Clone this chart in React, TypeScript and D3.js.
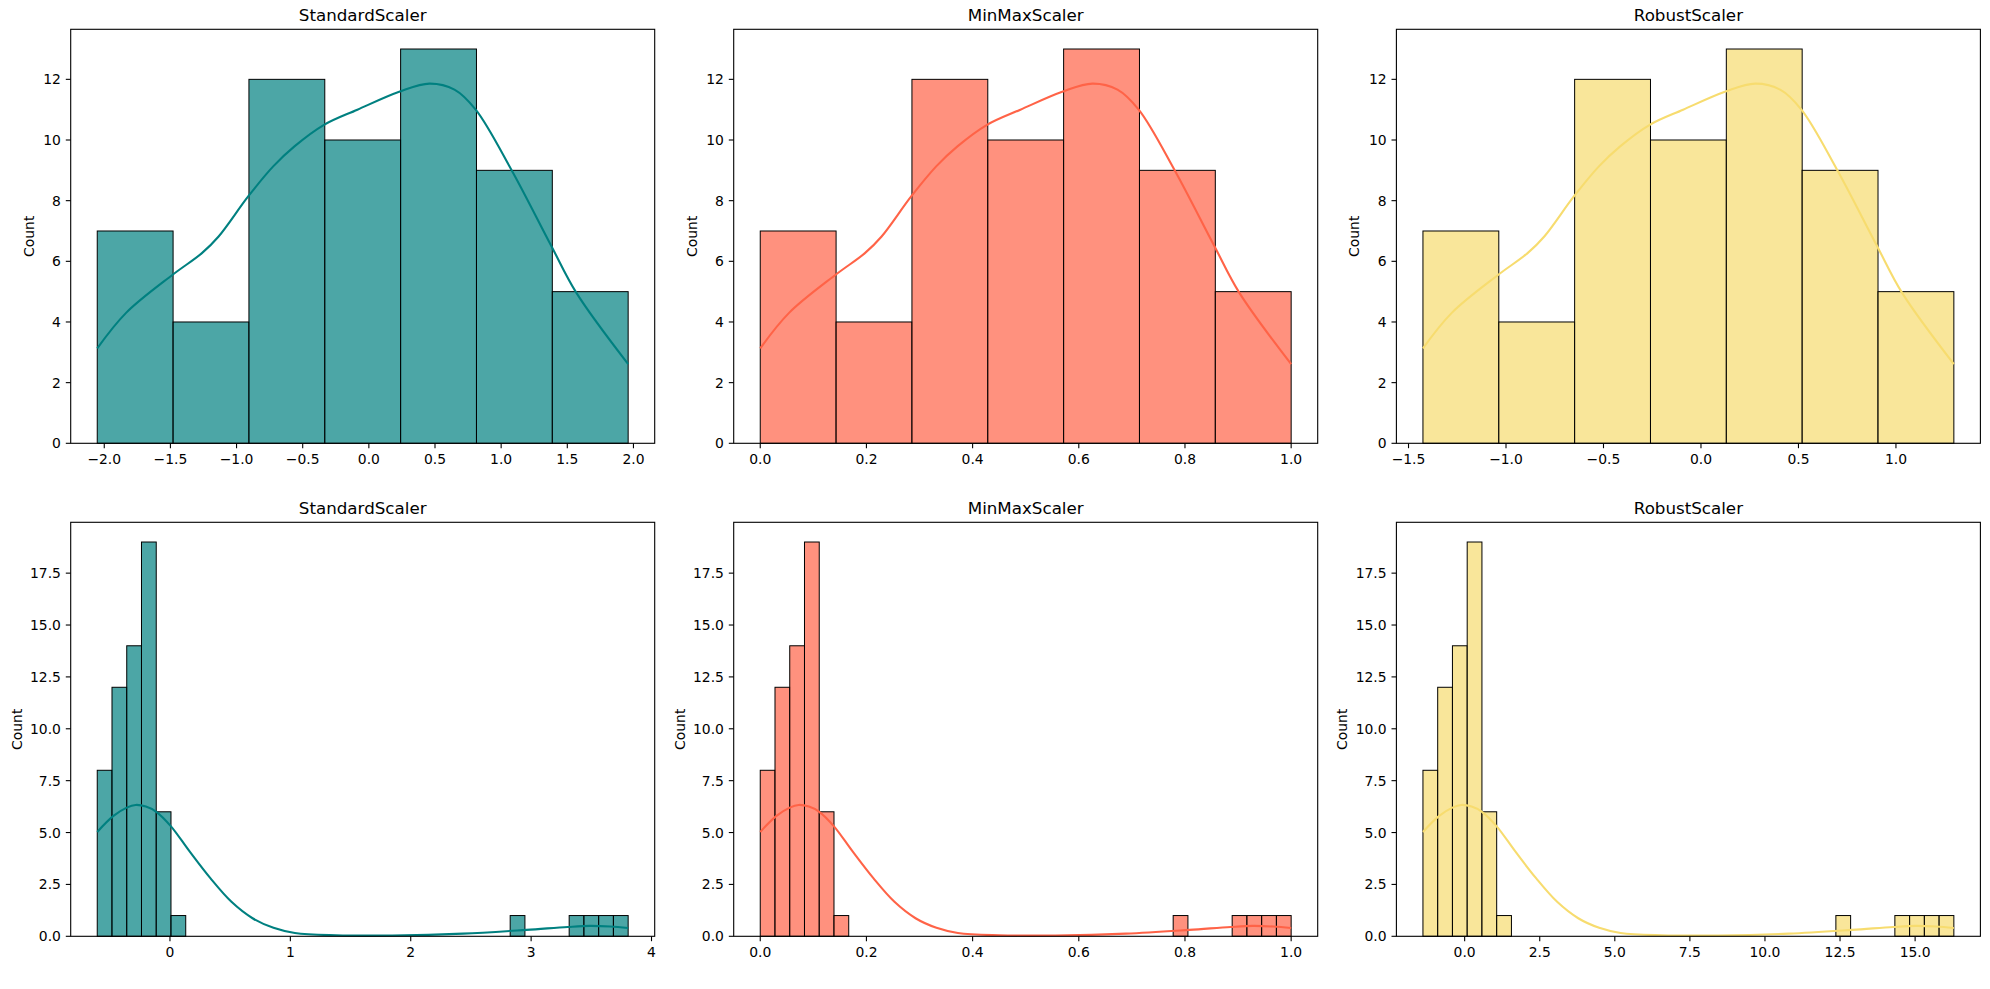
import React from "react";
import * as d3 from "d3";

const W = 1990;
const H = 989;

const titles = ["StandardScaler", "MinMaxScaler", "RobustScaler"];
const lineColors = ["#008080", "#FF6347", "#F7DC6F"];
const barAlpha = 0.7;

// Top row: data without outliers, 7 bins
const topCounts = [7, 4, 12, 10, 13, 9, 5];
const topRanges: [number, number][] = [
  [-2.053, 1.96],
  [0, 1],
  [-1.426, 1.297],
];
// KDE (count scale), x given in bin units (0..7)
const topKdeU = [0, 0.38, 0.99, 1.38, 1.6, 1.99, 2.32, 2.6, 2.99, 3.43, 3.99, 4.38, 4.71, 4.99, 5.46, 5.98, 6.32, 7];
const topKdeCount = [3.13, 4.3, 5.55, 6.27, 6.82, 8.14, 9.13, 9.79, 10.5, 11.0, 11.6, 11.86, 11.66, 11.0, 9.02, 6.54, 4.95, 2.61];

// Bottom row: data with outliers, 36 bins
const botCounts = [
  8, 12, 14, 19, 6, 1,
  0, 0, 0, 0, 0, 0, 0, 0, 0, 0, 0, 0, 0, 0, 0, 0, 0, 0, 0, 0, 0, 0,
  1,
  0, 0, 0,
  1, 1, 1, 1,
];
const botRanges: [number, number][] = [
  [-0.604, 3.806],
  [0, 1],
  [-1.389, 16.29],
];
// KDE (count scale), x given in bin units (0..36)
const botKdeU = [0, 1.1, 2.0, 2.6, 3.3, 4.0, 5.0, 6.25, 7.67, 9.1, 10.53, 11.95, 13.4, 16.2, 20, 24.8, 29.1, 31.9, 33.4, 34.8, 36];
const botKdeCount = [5.03, 5.8, 6.2, 6.33, 6.25, 6.0, 5.3, 4.1, 2.8, 1.66, 0.87, 0.41, 0.16, 0.05, 0.04, 0.13, 0.31, 0.45, 0.5, 0.47, 0.4];

// Tick values
const topXTicks = [
  [-2.0, -1.5, -1.0, -0.5, 0.0, 0.5, 1.0, 1.5, 2.0],
  [0.0, 0.2, 0.4, 0.6, 0.8, 1.0],
  [-1.5, -1.0, -0.5, 0.0, 0.5, 1.0],
];
const topXFormats = [".1f", ".1f", ".1f"];
const botXTicks = [
  [0, 1, 2, 3, 4],
  [0.0, 0.2, 0.4, 0.6, 0.8, 1.0],
  [0.0, 2.5, 5.0, 7.5, 10.0, 12.5, 15.0],
];
const botXFormats = ["d", ".1f", ".1f"];
const topYTicks = [0, 2, 4, 6, 8, 10, 12];
const botYTicks = [0, 2.5, 5.0, 7.5, 10.0, 12.5, 15.0, 17.5];

const colX = [70.7, 733.7, 1396.4];
const panelW = 584;
const rowY = [29.3, 522.3];
const panelH = 414;

const FONT = "DejaVu Sans, Verdana, sans-serif";
const TICK_FS = 13.9;
const TITLE_FS = 16.7;

type PanelProps = {
  x0: number;
  y0: number;
  title: string;
  color: string;
  counts: number[];
  range: [number, number];
  kdeU: number[];
  kdeC: number[];
  xTicks: number[];
  xFmt: string;
  yTicks: number[];
  yFmt: string;
  ylabelOffset: number;
};

function Panel(p: PanelProps) {
  const [lo, hi] = p.range;
  const n = p.counts.length;
  const bw = (hi - lo) / n;
  const pad = 0.05 * (hi - lo);
  const x = d3.scaleLinear().domain([lo - pad, hi + pad]).range([p.x0, p.x0 + panelW]);
  const yMax = (d3.max(p.counts) as number) * 1.05;
  const y = d3.scaleLinear().domain([0, yMax]).range([p.y0 + panelH, p.y0]);
  const xf = d3.format(p.xFmt);
  const yf = d3.format(p.yFmt);
  const base = p.y0 + panelH;

  const kdePts: [number, number][] = p.kdeU.map((u, i) => [lo + u * bw, p.kdeC[i]]);
  const line = d3
    .line<[number, number]>()
    .x((d) => x(d[0]))
    .y((d) => Math.min(y(d[1]), base))
    .curve(d3.curveCatmullRom.alpha(0.5));

  return (
    <g>
      {p.counts.map((c, i) =>
        c > 0 ? (
          <rect
            key={i}
            x={x(lo + i * bw)}
            y={y(c)}
            width={x(lo + (i + 1) * bw) - x(lo + i * bw)}
            height={base - y(c)}
            fill={p.color}
            fillOpacity={barAlpha}
            stroke="#000"
            strokeWidth={1}
          />
        ) : null
      )}
      <path d={line(kdePts) || ""} fill="none" stroke={p.color} strokeWidth={2.1} />
      <rect x={p.x0} y={p.y0} width={panelW} height={panelH} fill="none" stroke="#000" strokeWidth={1.1} />
      {p.xTicks.map((t) => (
        <g key={"x" + t}>
          <line x1={x(t)} x2={x(t)} y1={base} y2={base + 4.9} stroke="#000" strokeWidth={1.1} />
          <text
            x={x(t)}
            y={base + 9.8}
            dy="0.76em"
            textAnchor="middle"
            fontFamily={FONT}
            fontSize={TICK_FS}
            fill="#000"
          >
            {xf(t)}
          </text>
        </g>
      ))}
      {p.yTicks.map((t) => (
        <g key={"y" + t}>
          <line x1={p.x0 - 4.9} x2={p.x0} y1={y(t)} y2={y(t)} stroke="#000" strokeWidth={1.1} />
          <text
            x={p.x0 - 9.8}
            y={y(t)}
            dy="0.36em"
            textAnchor="end"
            fontFamily={FONT}
            fontSize={TICK_FS}
            fill="#000"
          >
            {yf(t)}
          </text>
        </g>
      ))}
      <text
        transform={`translate(${p.x0 - p.ylabelOffset},${p.y0 + panelH / 2}) rotate(-90)`}
        textAnchor="middle"
        dy="0.36em"
        fontFamily={FONT}
        fontSize={TICK_FS}
        fill="#000"
      >
        Count
      </text>
      <text
        x={p.x0 + panelW / 2}
        y={p.y0 - 8.3}
        textAnchor="middle"
        fontFamily={FONT}
        fontSize={TITLE_FS}
        fill="#000"
      >
        {p.title}
      </text>
    </g>
  );
}

export default function App() {
  return (
    <svg
      width={W}
      height={H}
      viewBox={`0 0 ${W} ${H}`}
      style={{ position: "absolute", left: 0, top: 0, display: "block", background: "#fff" }}
    >
      <rect x={0} y={0} width={W} height={H} fill="#fff" />
      {titles.map((t, i) => (
        <Panel
          key={"top" + i}
          x0={colX[i]}
          y0={rowY[0]}
          title={t}
          color={lineColors[i]}
          counts={topCounts}
          range={topRanges[i]}
          kdeU={topKdeU}
          kdeC={topKdeCount}
          xTicks={topXTicks[i]}
          xFmt={topXFormats[i]}
          yTicks={topYTicks}
          yFmt="d"
          ylabelOffset={42}
        />
      ))}
      {titles.map((t, i) => (
        <Panel
          key={"bot" + i}
          x0={colX[i]}
          y0={rowY[1]}
          title={t}
          color={lineColors[i]}
          counts={botCounts}
          range={botRanges[i]}
          kdeU={botKdeU}
          kdeC={botKdeCount}
          xTicks={botXTicks[i]}
          xFmt={botXFormats[i]}
          yTicks={botYTicks}
          yFmt=".1f"
          ylabelOffset={54}
        />
      ))}
    </svg>
  );
}
